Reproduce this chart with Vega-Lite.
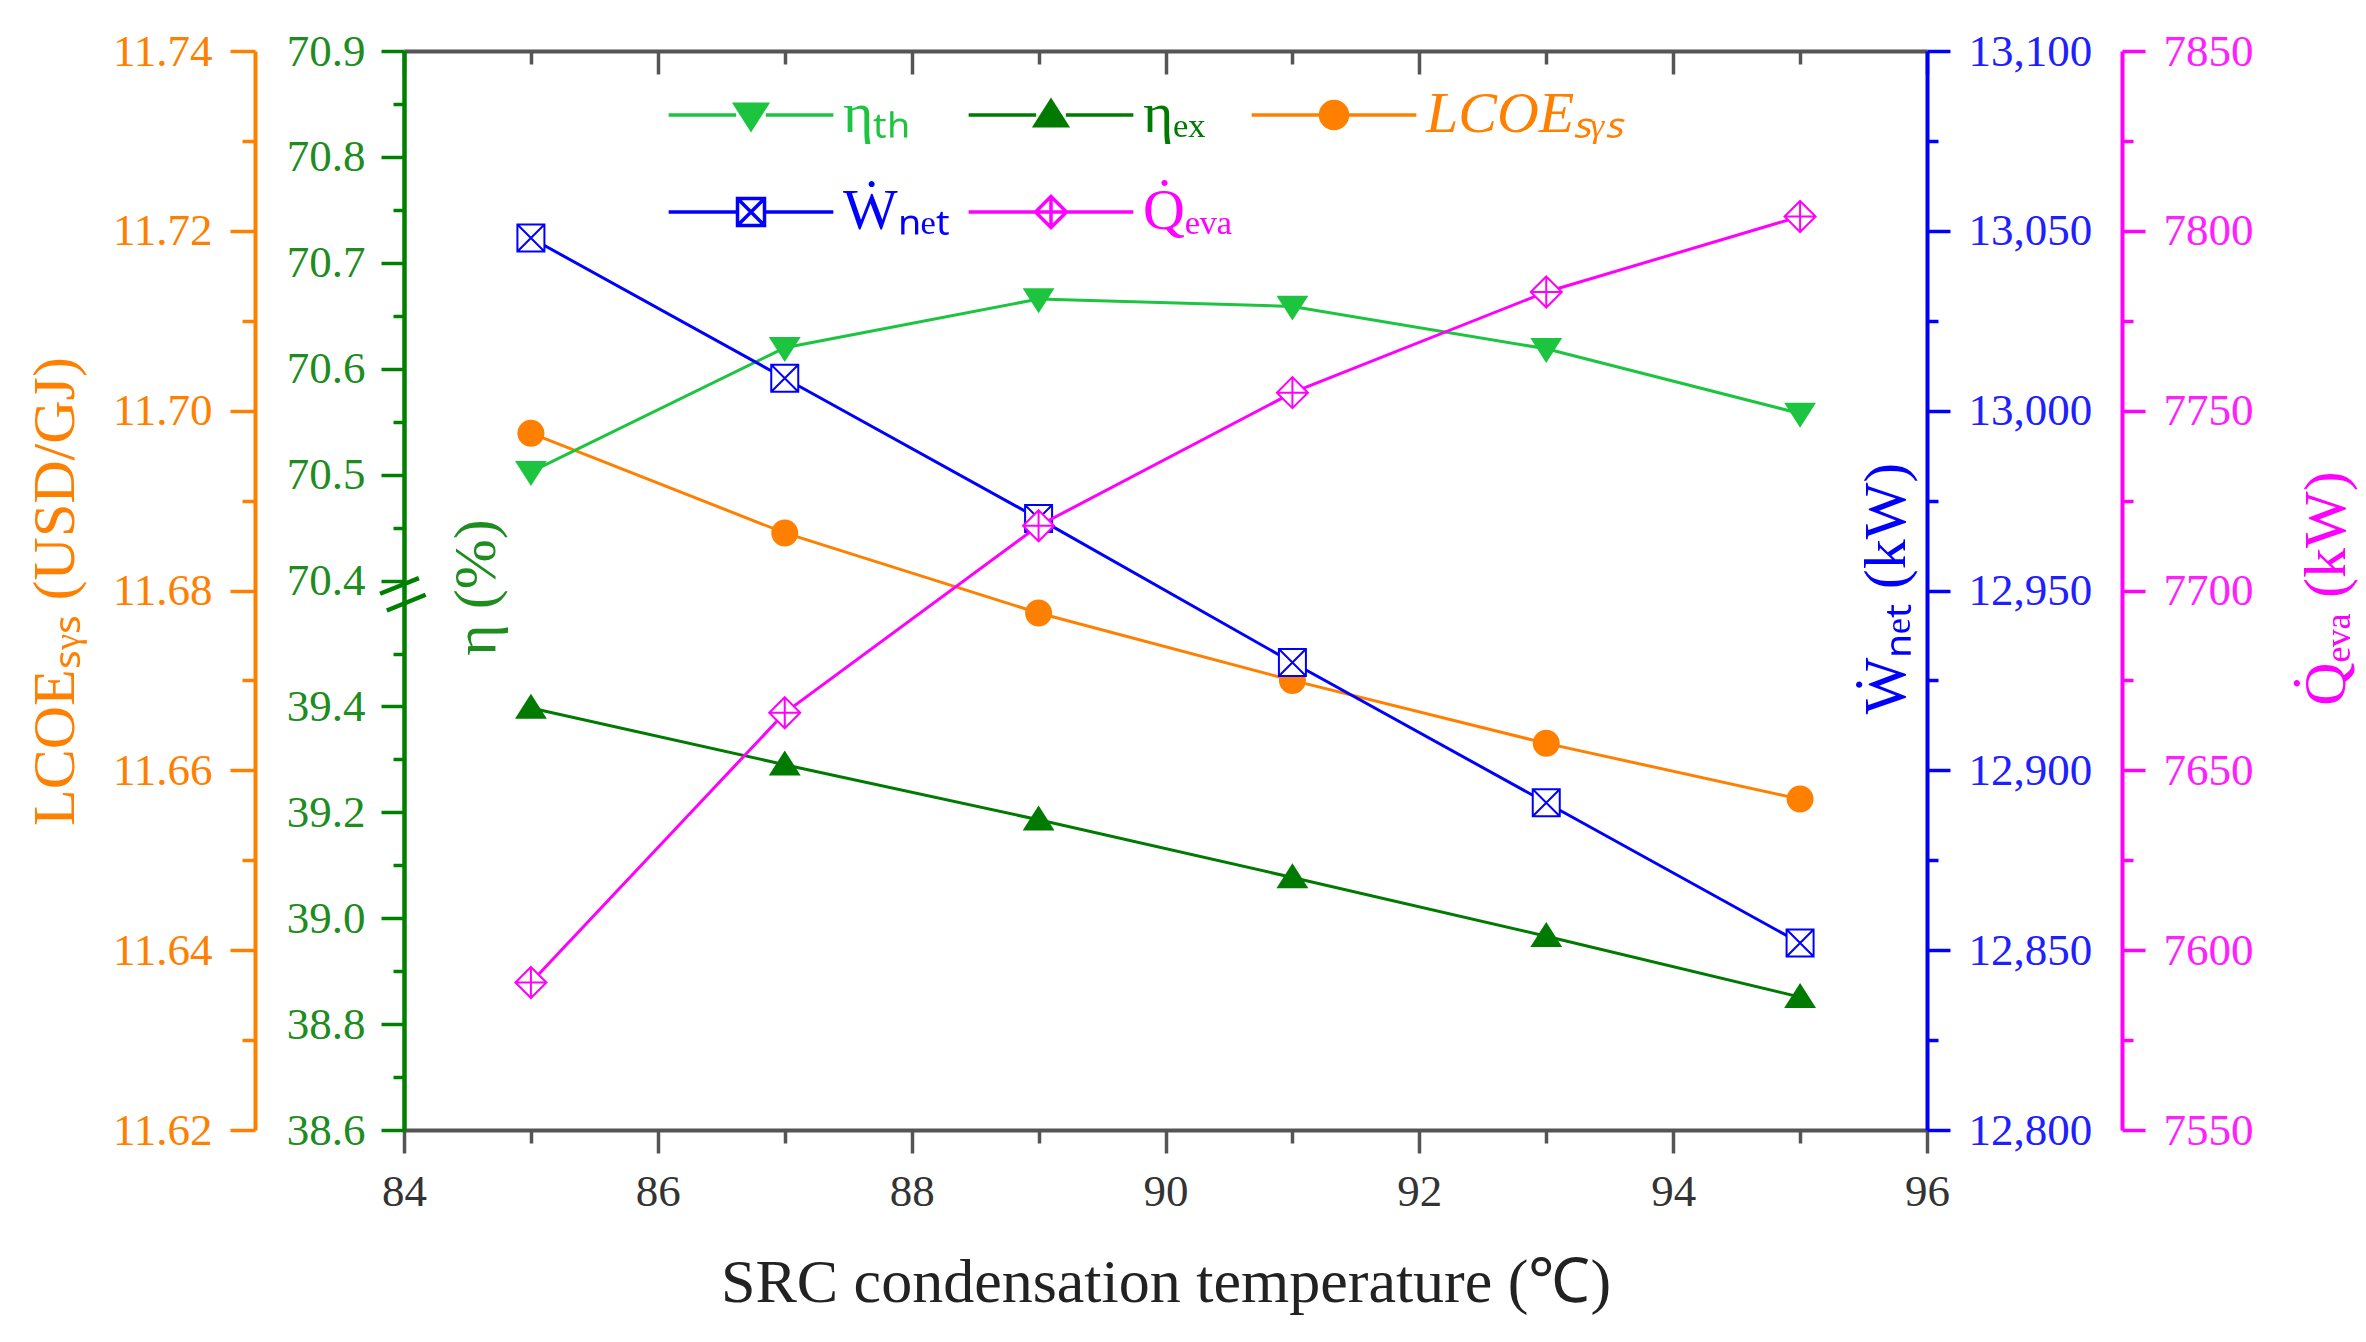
{
  "$schema": "https://vega.github.io/schema/vega-lite/v6.json",
  "width": 1523,
  "height": 1079,
  "autosize": {"type": "none"},
  "padding": {"left": 404, "top": 51, "right": 439, "bottom": 212},
  "background": "white",
  "config": {
    "view": {"stroke": null},
    "font": "Liberation Serif",
    "axis": {
      "grid": false,
      "labelFont": "Liberation Serif",
      "titleFont": "Liberation Serif",
      "labelFontSize": 45,
      "titleFontSize": 60,
      "titleFontWeight": "normal",
      "domainWidth": 4,
      "tickWidth": 3.5,
      "labelFlush": false,
      "labelOverlap": false,
      "labelBound": false
    },
    "legend": {
      "orient": "none",
      "legendX": 318,
      "legendY": 35,
      "direction": "horizontal",
      "columns": 3,
      "title": null,
      "symbolSize": 729,
      "symbolStrokeWidth": 3.5,
      "symbolOpacity": 1,
      "labelFont": "Liberation Serif",
      "labelFontSize": 58,
      "labelOffset": 63,
      "labelLimit": 0,
      "columnPadding": 11,
      "rowPadding": 39,
      "gridAlign": "each"
    }
  },
  "data": {
    "values": [
      {"T": 85, "eta_th": 70.503, "eta_ex": 39.397, "LCOE": 11.6975, "W": 13048, "Q": 7591},
      {"T": 87, "eta_th": 70.620, "eta_ex": 39.290, "LCOE": 11.6864, "W": 13009, "Q": 7666},
      {"T": 89, "eta_th": 70.666, "eta_ex": 39.186, "LCOE": 11.6775, "W": 12970, "Q": 7718},
      {"T": 91, "eta_th": 70.659, "eta_ex": 39.077, "LCOE": 11.6700, "W": 12930, "Q": 7755},
      {"T": 93, "eta_th": 70.619, "eta_ex": 38.966, "LCOE": 11.6630, "W": 12891, "Q": 7783},
      {"T": 95, "eta_th": 70.558, "eta_ex": 38.851, "LCOE": 11.6568, "W": 12852, "Q": 7804}
    ]
  },
  "resolve": {"scale": {"x": "independent", "y": "independent"}},
  "layer": [
    {
      "encoding": {
        "x": {
          "field": "T",
          "type": "quantitative",
          "scale": {"domain": [84, 96], "nice": false, "zero": false},
          "axis": {
            "orient": "bottom",
            "values": [84, 85, 86, 87, 88, 89, 90, 91, 92, 93, 94, 95, 96],
            "labelExpr": "datum.value % 2 === 0 ? format(datum.value, 'd') : ''",
            "tickSize": {"condition": {"test": "datum.value % 2 === 0", "value": 23}, "value": 13},
            "labelPadding": 16,
            "domainColor": "#555555",
            "tickColor": "#555555",
            "labelColor": "#333333",
            "title": "SRC condensation temperature (℃)",
            "titleColor": "#222222",
            "titleFontSize": 62,
            "titlePadding": 38
          }
        },
        "y": {
          "field": "LCOE",
          "type": "quantitative",
          "scale": {"domain": [11.62, 11.74], "nice": false, "zero": false},
          "axis": {
            "orient": "left",
            "offset": 149,
            "values": [11.62, 11.63, 11.64, 11.65, 11.66, 11.67, 11.68, 11.69, 11.70, 11.71, 11.72, 11.73, 11.74],
            "labelExpr": "round(datum.value * 100) % 2 === 0 ? format(datum.value, '.2f') : ''",
            "tickSize": {"condition": {"test": "round(datum.value * 100) % 2 === 0", "value": 25}, "value": 13},
            "labelPadding": 18,
            "domainColor": "#FF8000",
            "tickColor": "#FF8000",
            "labelColor": "#FF8000",
            "title": "LCOEₛᵧₛ (USD/GJ)",
            "titleColor": "#FF8000",
            "titleAngle": 270,
            "titleX": -200,
            "titleY": 540,
            "titleAlign": "center",
            "titleBaseline": "middle"
          }
        }
      },
      "layer": [
        {"mark": {"type": "line", "color": "#FF8000", "strokeWidth": 3}},
        {"mark": {"type": "point", "filled": true, "opacity": 1, "size": 729, "color": "#FF8000", "shape": "M1,0A1,1,0,1,1,-1,0A1,1,0,1,1,1,0Z"}}
      ]
    },
    {
      "encoding": {
        "x": {
          "field": "T",
          "type": "quantitative",
          "scale": {"domain": [84, 96], "nice": false, "zero": false},
          "axis": {
            "orient": "top",
            "values": [84, 85, 86, 87, 88, 89, 90, 91, 92, 93, 94, 95, 96],
            "labels": false,
            "tickSize": {"condition": {"test": "datum.value % 2 === 0", "value": -23}, "value": -13},
            "domainColor": "#555555",
            "tickColor": "#555555",
            "title": null
          }
        },
        "y": {
          "field": "eta_th",
          "type": "quantitative",
          "scale": {"domain": [69.882, 70.9], "nice": false, "zero": false},
          "axis": {
            "orient": "left",
            "offset": 0,
            "values": [70.4, 70.45, 70.5, 70.55, 70.6, 70.65, 70.7, 70.75, 70.8, 70.85, 70.9],
            "labelExpr": "abs(datum.value * 10 - round(datum.value * 10)) < 0.01 ? format(datum.value, '.1f') : ''",
            "tickSize": {"condition": {"test": "abs(datum.value * 10 - round(datum.value * 10)) < 0.01", "value": 23}, "value": 11},
            "labelPadding": 16,
            "domainColor": "#008000",
            "tickColor": "#008000",
            "labelColor": "#1E8C1E",
            "title": "η (%)",
            "titleColor": "#1E8C1E",
            "titleAngle": 270,
            "titleX": 72,
            "titleY": 536,
            "titleAlign": "center",
            "titleBaseline": "middle"
          }
        }
      },
      "layer": [
        {"mark": {"type": "line", "color": "#1DC43F", "strokeWidth": 3}},
        {"mark": {"type": "point", "filled": true, "opacity": 1, "size": 729, "color": "#1DC43F", "shape": "M-1.18,-0.8L1.18,-0.8L0,1.05Z"}},
        {
          "transform": [{"filter": "datum.T === 85"}],
          "mark": {"type": "text", "text": "=", "angle": -22, "fontSize": 90, "color": "#008000", "font": "Liberation Serif", "baseline": "middle", "align": "center"},
          "encoding": {
            "x": {"datum": 84, "type": "quantitative"},
            "y": {"datum": 70.385, "type": "quantitative"}
          }
        }
      ]
    },
    {
      "encoding": {
        "x": {
          "field": "T",
          "type": "quantitative",
          "scale": {"domain": [84, 96], "nice": false, "zero": false},
          "axis": null
        },
        "y": {
          "field": "eta_ex",
          "type": "quantitative",
          "scale": {"domain": [38.6, 40.638], "nice": false, "zero": false},
          "axis": {
            "orient": "left",
            "offset": 0,
            "values": [38.6, 38.7, 38.8, 38.9, 39.0, 39.1, 39.2, 39.3, 39.4, 39.5],
            "labelExpr": "round(datum.value * 10) % 2 === 0 ? format(datum.value, '.1f') : ''",
            "tickSize": {"condition": {"test": "round(datum.value * 10) % 2 === 0", "value": 23}, "value": 11},
            "labelPadding": 16,
            "domainColor": "#008000",
            "tickColor": "#008000",
            "labelColor": "#1E8C1E",
            "title": null
          }
        }
      },
      "layer": [
        {"mark": {"type": "line", "color": "#007A00", "strokeWidth": 3}},
        {"mark": {"type": "point", "filled": true, "opacity": 1, "size": 729, "color": "#007A00", "shape": "M-1.18,0.8L1.18,0.8L0,-1.05Z"}}
      ]
    },
    {
      "encoding": {
        "x": {
          "field": "T",
          "type": "quantitative",
          "scale": {"domain": [84, 96], "nice": false, "zero": false},
          "axis": null
        },
        "y": {
          "field": "W",
          "type": "quantitative",
          "scale": {"domain": [12800, 13100], "nice": false, "zero": false},
          "axis": {
            "orient": "right",
            "offset": 0,
            "values": [12800, 12825, 12850, 12875, 12900, 12925, 12950, 12975, 13000, 13025, 13050, 13075, 13100],
            "labelExpr": "datum.value % 50 === 0 ? format(datum.value, ',') : ''",
            "tickSize": {"condition": {"test": "datum.value % 50 === 0", "value": 23}, "value": 11},
            "labelPadding": 18,
            "domainColor": "#0000FF",
            "tickColor": "#0000FF",
            "labelColor": "#2020FF",
            "title": "Ẇₙₑₜ (kW)",
            "titleColor": "#0000FF",
            "titleAngle": 270,
            "titleX": -41,
            "titleY": 537,
            "titleAlign": "center",
            "titleBaseline": "middle"
          }
        }
      },
      "layer": [
        {"mark": {"type": "line", "color": "#0000FF", "strokeWidth": 3}},
        {"mark": {"type": "point", "filled": false, "fill": "white", "color": "#0000FF", "opacity": 1, "size": 729, "strokeWidth": 2, "shape": "M-1,-1H1V1H-1ZM-1,-1L1,1M-1,1L1,-1"}}
      ]
    },
    {
      "encoding": {
        "x": {
          "field": "T",
          "type": "quantitative",
          "scale": {"domain": [84, 96], "nice": false, "zero": false},
          "axis": null
        },
        "y": {
          "field": "Q",
          "type": "quantitative",
          "scale": {"domain": [7550, 7850], "nice": false, "zero": false},
          "axis": {
            "orient": "right",
            "offset": 195,
            "values": [7550, 7575, 7600, 7625, 7650, 7675, 7700, 7725, 7750, 7775, 7800, 7825, 7850],
            "labelExpr": "datum.value % 50 === 0 ? format(datum.value, 'd') : ''",
            "tickSize": {"condition": {"test": "datum.value % 50 === 0", "value": 23}, "value": 11},
            "labelPadding": 18,
            "domainColor": "#FF00FF",
            "tickColor": "#FF00FF",
            "labelColor": "#FF20FF",
            "title": "Q̇ₑᵥₐ (kW)",
            "titleColor": "#FF00FF",
            "titleAngle": 270,
            "titleX": 204,
            "titleY": 537,
            "titleAlign": "center",
            "titleBaseline": "middle"
          }
        }
      },
      "layer": [
        {"mark": {"type": "line", "color": "#FF00FF", "strokeWidth": 3}},
        {"mark": {"type": "point", "filled": false, "fill": "white", "color": "#FF00FF", "opacity": 1, "size": 729, "strokeWidth": 2, "shape": "M0,-1.15L1.15,0L0,1.15L-1.15,0ZM0,-1.15V1.15M-1.15,0H1.15"}}
      ]
    },
    {
      "data": {
        "values": [
          {"series": "ηₜₕ"},
          {"series": "ηₑₓ"},
          {"series": "LCOEₛᵧₛ"},
          {"series": "Ẇₙₑₜ"},
          {"series": "Q̇ₑᵥₐ"}
        ]
      },
      "mark": {"type": "point", "opacity": 0, "size": 729, "strokeWidth": 3.5},
      "encoding": {
        "shape": {
          "field": "series",
          "type": "nominal",
          "scale": {
            "domain": ["ηₜₕ", "ηₑₓ", "LCOEₛᵧₛ", "Ẇₙₑₜ", "Q̇ₑᵥₐ"],
            "range": [
              "M-6.1,0H-1.1M1.1,0H6.1M-1.18,-0.8L1.18,-0.8L0,1.05Z",
              "M-6.1,0H-1.1M1.1,0H6.1M-1.18,0.8L1.18,0.8L0,-1.05Z",
              "M-6.1,0H-1M1,0H6.1M1,0A1,1,0,1,1,-1,0A1,1,0,1,1,1,0Z",
              "M-6.1,0H-1M1,0H6.1M-1,-1H1V1H-1ZM-1,-1L1,1M-1,1L1,-1",
              "M-6.1,0H-1.15M1.15,0H6.1M0,-1.15L1.15,0L0,1.15L-1.15,0ZM0,-1.15V1.15M-1.15,0H1.15"
            ]
          },
          "legend": {
            "encode": {
              "labels": {
                "update": {
                  "fill": {"signal": "datum.value === 'ηₜₕ' ? '#1DC43F' : datum.value === 'ηₑₓ' ? '#007A00' : datum.value === 'LCOEₛᵧₛ' ? '#FF8000' : datum.value === 'Ẇₙₑₜ' ? '#0000FF' : '#FF00FF'"},
                  "fontStyle": {"signal": "datum.value === 'LCOEₛᵧₛ' ? 'italic' : 'normal'"}
                }
              }
            }
          }
        },
        "fill": {
          "field": "series",
          "type": "nominal",
          "scale": {
            "domain": ["ηₜₕ", "ηₑₓ", "LCOEₛᵧₛ", "Ẇₙₑₜ", "Q̇ₑᵥₐ"],
            "range": ["#1DC43F", "#007A00", "#FF8000", "#FFFFFF", "#FFFFFF"]
          },
          "legend": {
            "encode": {
              "labels": {
                "update": {
                  "fill": {"signal": "datum.value === 'ηₜₕ' ? '#1DC43F' : datum.value === 'ηₑₓ' ? '#007A00' : datum.value === 'LCOEₛᵧₛ' ? '#FF8000' : datum.value === 'Ẇₙₑₜ' ? '#0000FF' : '#FF00FF'"},
                  "fontStyle": {"signal": "datum.value === 'LCOEₛᵧₛ' ? 'italic' : 'normal'"}
                }
              }
            }
          }
        },
        "stroke": {
          "field": "series",
          "type": "nominal",
          "scale": {
            "domain": ["ηₜₕ", "ηₑₓ", "LCOEₛᵧₛ", "Ẇₙₑₜ", "Q̇ₑᵥₐ"],
            "range": ["#1DC43F", "#007A00", "#FF8000", "#0000FF", "#FF00FF"]
          },
          "legend": {
            "encode": {
              "labels": {
                "update": {
                  "fill": {"signal": "datum.value === 'ηₜₕ' ? '#1DC43F' : datum.value === 'ηₑₓ' ? '#007A00' : datum.value === 'LCOEₛᵧₛ' ? '#FF8000' : datum.value === 'Ẇₙₑₜ' ? '#0000FF' : '#FF00FF'"},
                  "fontStyle": {"signal": "datum.value === 'LCOEₛᵧₛ' ? 'italic' : 'normal'"}
                }
              }
            }
          }
        }
      }
    }
  ]
}
